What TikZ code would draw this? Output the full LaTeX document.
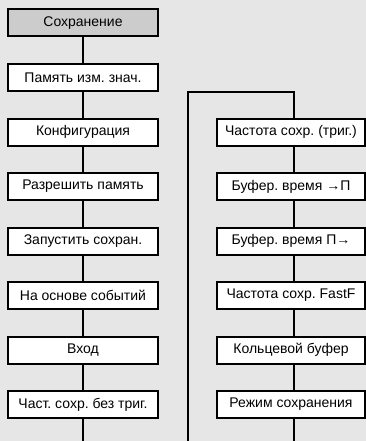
\documentclass[tikz,border=0pt]{standalone}
\usepackage{fontspec}
\setmainfont{Liberation Sans}
\frenchspacing
\definecolor{bgc}{HTML}{E6E6E6}
\definecolor{topc}{HTML}{CCCCCC}
\begin{document}
\begin{tikzpicture}[x=1pt,y=-1pt,
 box/.style={draw=black,line width=2pt,fill=white,minimum height=27pt,inner sep=0pt,font=\fontsize{14}{16}\selectfont},
 lbox/.style={box,minimum width=150pt},
 rbox/.style={box,minimum width=148pt},
 conn/.style={line width=2pt}]
\fill[bgc] (0,0) rectangle (366,441);
\useasboundingbox (0,0) rectangle (366,441);
% left column
\node[lbox,fill=topc] (l1) at (83,23) {Сохранение};
\node[lbox] (l2) at (83,77.5) {Память изм. знач.};
\node[lbox] (l3) at (83,132) {Конфигурация};
\node[lbox] (l4) at (83,186.5) {Разрешить память};
\node[lbox] (l5) at (83,241) {Запустить сохран.};
\node[lbox] (l6) at (83,295.5) {На основе событий};
\node[lbox] (l7) at (83,350) {Вход};
\node[lbox] (l8) at (83,404.5) {Част. сохр. без триг.};
\coordinate (lend) at (83,441);
% right column
\node[rbox] (r1) at (291,132) {Частота сохр. (триг.)};
\node[rbox] (r2) at (291,186.5) {Буфер. время →П};
\node[rbox] (r3) at (291,241) {Буфер. время П→};
\node[rbox] (r4) at (291,295.5) {Частота сохр. FastF};
\node[rbox] (r5) at (291,350) {Кольцевой буфер};
\node[rbox] (r6) at (291,404.5) {Режим сохранения};
\coordinate (rend) at (294,441);
\coordinate (bl) at (188,441);
\coordinate (tl) at (188,92);
\coordinate (tr) at (294,92);
% connectors
\foreach \a/\b in {l1/l2,l2/l3,l3/l4,l4/l5,l5/l6,l6/l7,l7/l8}
  \draw[conn] (\a.south) -- (\b.north);
\draw[conn] (l8.south) -- (lend);
\draw[conn] (bl) -- (tl) -- (tr) -- (tr |- r1.north);
\foreach \a/\b in {r1/r2,r2/r3,r3/r4,r4/r5,r5/r6}
  \draw[conn] ([xshift=3pt]\a.south) -- ([xshift=3pt]\b.north);
\draw[conn] ([xshift=3pt]r6.south) -- (rend);
\end{tikzpicture}
\end{document}
